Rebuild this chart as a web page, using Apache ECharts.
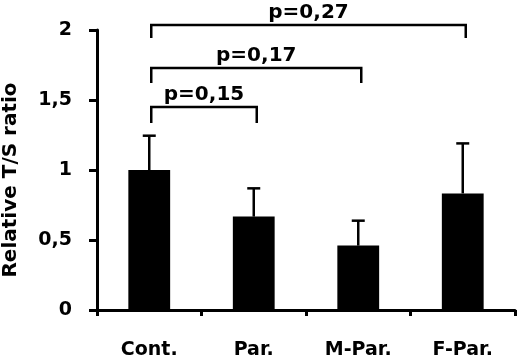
<!DOCTYPE html>
<html>
<head>
<meta charset="utf-8">
<script src="https://cdn.jsdelivr.net/npm/echarts@6/dist/echarts.min.js"></script>
<style>html,body{margin:0;padding:0;background:#fff}#c{width:520px;height:362px}</style>
</head>
<body>
<div id="c"></div>
<script>
const categories = ['Cont.', 'Par.', 'M-Par.', 'F-Par.'];
const means = [1.0, 0.667, 0.46, 0.833];
const errors = [0.245, 0.202, 0.178, 0.357];
const yTicks = [0, 0.5, 1, 1.5, 2];
// comparisons: from category, to category, bracket level, leg bottom, label
const bracketFrom = [0, 0, 0];
const bracketTo = [3, 2, 1];
const bracketLevel = [2.036, 1.729, 1.45];
const bracketLeg = [1.943, 1.621, 1.336];
const bracketLabels = ['p=0,27', 'p=0,17', 'p=0,15'];

const FONT = 'DejaVu Sans';
const chart = echarts.init(document.getElementById('c'), null, {renderer: 'canvas'});

const errData = means.map((m, i) => [i, m, m + errors[i]]);
const brData = bracketFrom.map((f, i) => [f, bracketTo[i], bracketLevel[i], bracketLeg[i], i]);

chart.setOption({
  animation: false,
  backgroundColor: '#fff',
  grid: {left: 97, right: 5, top: 30, bottom: 52, containLabel: false, outerBoundsMode: 'none'},
  xAxis: {
    type: 'category',
    data: categories,
    boundaryGap: true,
    axisLine: {lineStyle: {color: '#000', width: 3}},
    axisTick: {show: true, length: 6, lineStyle: {color: '#000', width: 3}},
    axisLabel: {color: '#000', fontFamily: FONT, fontWeight: 'bold', fontSize: 19, margin: 31}
  },
  yAxis: {
    type: 'value',
    min: yTicks[0], max: yTicks[yTicks.length - 1], interval: 0.5,
    name: 'Relative T/S ratio',
    nameLocation: 'middle',
    nameRotate: 90,
    nameGap: 76,
    nameTextStyle: {color: '#000', fontFamily: FONT, fontWeight: 'bold', fontSize: 20, padding: [0, 20, 0, 0]},
    axisLine: {show: true, lineStyle: {color: '#000', width: 3}},
    axisTick: {show: true, length: 8, lineStyle: {color: '#000', width: 3}},
    splitLine: {show: false},
    axisLabel: {
      color: '#000', fontFamily: FONT, fontWeight: 'bold', fontSize: 19, margin: 25,
      formatter: v => String(v).replace('.', ',')
    }
  },
  series: [
    {
      type: 'bar',
      data: means,
      barWidth: '40%',
      itemStyle: {color: '#000'},
      z: 2
    },
    {
      type: 'custom',
      data: errData,
      z: 1,
      clip: false,
      renderItem: function (params, api) {
        const idx = api.value(0);
        const base = api.coord([idx, api.value(1)]);
        const top = api.coord([idx, api.value(2)]);
        const cap = 6.5;
        const st = {stroke: '#000', lineWidth: 2.5};
        return {
          type: 'group',
          children: [
            {type: 'line', shape: {x1: base[0], y1: base[1], x2: top[0], y2: top[1]}, style: st},
            {type: 'line', shape: {x1: top[0] - cap, y1: top[1], x2: top[0] + cap, y2: top[1]}, style: st}
          ]
        };
      }
    },
    {
      type: 'custom',
      data: brData,
      clip: false,
      z: 3,
      renderItem: function (params, api) {
        const a = api.coord([api.value(0), api.value(2)]);
        const b = api.coord([api.value(1), api.value(2)]);
        const legY = api.coord([api.value(0), api.value(3)])[1];
        const label = bracketLabels[api.value(4)];
        const st = {stroke: '#000', lineWidth: 2.5, fill: null};
        const ax = a[0] + 2, bx = b[0] + 3;
        return {
          type: 'group',
          children: [
            {type: 'polyline', shape: {points: [[ax, legY], [ax, a[1]], [bx, a[1]], [bx, legY]]}, style: st},
            {type: 'text', x: (ax + bx) / 2, y: a[1] - 12,
             style: {text: label, fill: '#000', font: 'bold 20px "' + FONT + '"', align: 'center', verticalAlign: 'middle'}}
          ]
        };
      }
    }
  ]
});
</script>
</body>
</html>
